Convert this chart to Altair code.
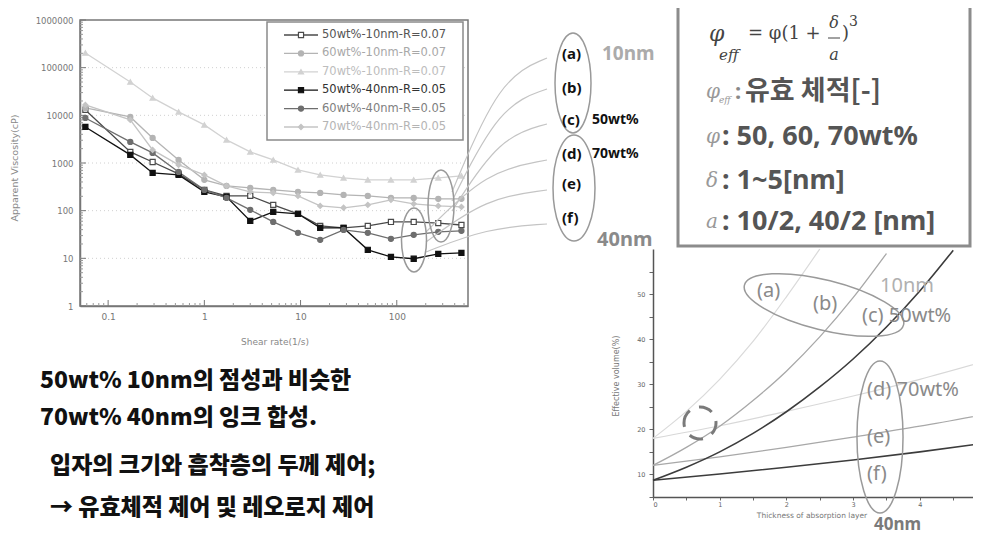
import altair as alt
import pandas as pd

W, H = 965, 529


def vx(x):
    return x - 8


def vy(y):
    return y - 8


# ---------------- viscosity chart ----------------
shear_rate = [0.058, 0.17, 0.29, 0.54, 1.0, 1.7, 3.0, 5.2, 9.4, 16, 28, 50, 87, 150, 270, 470]
series_names = ["50wt%-10nm-R=0.07", "60wt%-10nm-R=0.07", "70wt%-10nm-R=0.07",
                "50wt%-40nm-R=0.05", "60wt%-40nm-R=0.05", "70wt%-40nm-R=0.05"]
visc_50wt_10nm = [13000, 1710, 1050, 590, 273, 204, 204, 132, 86, 48, 43.5, 48, 58, 58, 55, 50]
visc_60wt_10nm = [14300, 9250, 3360, 1160, 443, 330, 300, 273, 248, 236, 214, 204, 185, 185, 177, 177]
visc_70wt_10nm = [203000, 50100, 23200, 11800, 6290, 3050, 1710, 1160, 716, 562, 488, 443, 443, 443, 488, 537]
visc_50wt_40nm = [5710, 1480, 620, 562, 248, 195, 61, 94, 86, 43.5, 43.5, 15.1, 10.7, 9.8, 12.4, 13.0]
visc_60wt_40nm = [8810, 2770, 1630, 650, 273, 185, 104, 58, 34.3, 24.4, 39.5, 34.3, 25.6, 31.1, 36, 37.7]
visc_70wt_40nm = [16500, 8010, 1880, 912, 562, 331, 248, 236, 204, 126, 115, 132, 168, 139, 126, 120]
x_ticks_left = [0.1, 1, 10, 100]
y_ticks_left = [1, 10, 100, 1000, 10000, 100000, 1000000]

# ---------------- effective volume chart ----------------
thickness_10nm = [0, 0.5, 1, 1.5, 2, 2.5, 3, 3.5, 4, 4.5]
eff_10nm_50wt = [8.7, 11.6, 15.0, 19.1, 23.9, 29.4, 35.6, 42.7, 50.7, 59.7]
eff_10nm_60wt = [12, 16.0, 20.7, 26.4, 32.9, 40.5, 49.2, 59.0]
eff_10nm_70wt = [18, 24.0, 31.1, 39.5, 49.4, 60.0]
thickness_40nm = [0, 1, 2, 3, 4, 5]
eff_40nm_50wt = [8.7, 10.1, 11.6, 13.2, 15.0, 17.0]
eff_40nm_60wt = [12, 13.9, 16.0, 18.3, 20.7, 23.4]
eff_40nm_70wt = [18, 20.8, 24.0, 27.4, 31.1, 35.2]
x_ticks_right = [0, 0.5, 1, 1.5, 2, 2.5, 3, 3.5, 4, 4.5]
y_ticks_right = [5, 10, 15, 20, 25, 30, 35, 40, 45, 50, 55]

# ---------------- text ----------------
bottom_lines = ["50wt% 10nm의 점성과 비슷한", "70wt% 40nm의 잉크 합성.",
                "입자의 크기와 흡착층의 두께 제어;", "→ 유효체적 제어 및 레오로지 제어"]
mid_labels = ["(a)", "(b)", "(c)", "(d)", "(e)", "(f)"]

series_colors = ["#4a4a4a", "#b4b4b4", "#d2d2d2", "#111111", "#6e6e6e", "#c4c4c4"]
series_fills = ["#ffffff", "#b4b4b4", "#d2d2d2", "#111111", "#6e6e6e", "#c4c4c4"]
series_shapes = ["square", "circle", "triangle-up", "square", "circle", "diamond"]
text_colors = ["#555555", "#a8a8a8", "#bdbdbd", "#333333", "#808080", "#b4b4b4"]

one = pd.DataFrame({"k": [0]})

rows = []
for name, vals in zip(series_names, [visc_50wt_10nm, visc_60wt_10nm, visc_70wt_10nm,
                                     visc_50wt_40nm, visc_60wt_40nm, visc_70wt_40nm]):
    for r, v in zip(shear_rate, vals):
        rows.append({"series": name, "rate": r, "visc": v})
visc_df = pd.DataFrame(rows)

xs_left = alt.Scale(type="log", domain=[0.051, 550], range=[vx(80), vx(468)], nice=False)
ys_left = alt.Scale(type="log", domain=[1, 1000000], range=[vy(306), vy(20)], nice=False)
stroke_scale = alt.Scale(domain=series_names, range=series_colors)
fill_scale = alt.Scale(domain=series_names, range=series_fills)
shape_scale = alt.Scale(domain=series_names, range=series_shapes)

axL_x = alt.Axis(orient="bottom", offset=vy(306) - H, values=x_ticks_left, format="~g", title=None,
                 ticks=False, grid=False, domainColor="#777777", domainWidth=1.5,
                 labelFontSize=9, labelColor="#777777", labelPadding=6, labelFont="DejaVu Sans")
axL_y = alt.Axis(orient="left", offset=-vx(80), values=y_ticks_left, format=".0f", title=None,
                 ticks=False, grid=False, domainColor="#777777", domainWidth=1.5,
                 labelFontSize=8.5, labelColor="#777777", labelPadding=7, labelFont="DejaVu Sans")

X_L = alt.X("rate:Q", scale=xs_left, axis=axL_x)
Y_L = alt.Y("visc:Q", scale=ys_left, axis=axL_y)

grid = alt.Chart(pd.DataFrame({"v": y_ticks_left[1:-1]})).mark_rule(
    stroke="#d0d0d0", strokeDash=[1, 3], strokeWidth=1).encode(
    y=alt.Y("v:Q", scale=ys_left, axis=axL_y), x=alt.value(vx(80)), x2=alt.value(vx(468)))

minor_y = [m * d for d in y_ticks_left[:-1] for m in range(2, 10)]
minor_x = [v for v in [m * d for d in [0.01, 0.1, 1, 10, 100] for m in range(2, 10)] if 0.051 <= v <= 550]

ytick_major = alt.Chart(pd.DataFrame({"v": y_ticks_left})).mark_rule(stroke="#777777").encode(
    y=alt.Y("v:Q", scale=ys_left, axis=axL_y), x=alt.value(vx(80)), x2=alt.value(vx(86)))
ytick_minor = alt.Chart(pd.DataFrame({"v": minor_y})).mark_rule(stroke="#999999").encode(
    y=alt.Y("v:Q", scale=ys_left, axis=axL_y), x=alt.value(vx(80)), x2=alt.value(vx(83)))
xtick_major = alt.Chart(pd.DataFrame({"v": x_ticks_left})).mark_rule(stroke="#777777").encode(
    x=alt.X("v:Q", scale=xs_left, axis=axL_x), y=alt.value(vy(306)), y2=alt.value(vy(300)))
xtick_minor = alt.Chart(pd.DataFrame({"v": minor_x})).mark_rule(stroke="#999999").encode(
    x=alt.X("v:Q", scale=xs_left, axis=axL_x), y=alt.value(vy(306)), y2=alt.value(vy(303)))

lines_left = alt.Chart(visc_df).mark_line(strokeWidth=1.3).encode(
    x=X_L, y=Y_L, stroke=alt.Stroke("series:N", scale=stroke_scale, legend=None), detail="series:N")
points_left = alt.Chart(visc_df).mark_point(filled=True, size=26, strokeWidth=1.2, opacity=1).encode(
    x=X_L, y=Y_L,
    stroke=alt.Stroke("series:N", scale=stroke_scale, legend=None),
    fill=alt.Fill("series:N", scale=fill_scale, legend=None),
    shape=alt.Shape("series:N", scale=shape_scale, legend=None))

frame_left = alt.Chart(one).mark_rect(filled=False, stroke="#777777", strokeWidth=1.5).encode(
    x=alt.value(vx(80)), x2=alt.value(vx(468)), y=alt.value(vy(20)), y2=alt.value(vy(306)))

left_group = alt.layer(grid, ytick_minor, ytick_major, xtick_minor, xtick_major,
                       lines_left, points_left)

# legend (manual, inside a box)
legend_df = pd.DataFrame({"series": series_names})
leg_y = alt.Y("series:N", scale=alt.Scale(type="point", domain=series_names,
                                           range=[vy(35), vy(127)], padding=0), axis=None)
legend_box = alt.Chart(one).mark_rect(fill="#ffffff", stroke="#8a8a8a", strokeWidth=1.5).encode(
    x=alt.value(vx(267)), x2=alt.value(vx(463)), y=alt.value(vy(22)), y2=alt.value(vy(140)))
legend_lines = alt.Chart(legend_df).mark_rule(strokeWidth=1.3).encode(
    y=leg_y, x=alt.value(vx(284)), x2=alt.value(vx(318)),
    stroke=alt.Stroke("series:N", scale=stroke_scale, legend=None))
legend_pts = alt.Chart(legend_df).mark_point(filled=True, size=26, strokeWidth=1.2, opacity=1).encode(
    y=leg_y, x=alt.value(vx(301)),
    stroke=alt.Stroke("series:N", scale=stroke_scale, legend=None),
    fill=alt.Fill("series:N", scale=fill_scale, legend=None),
    shape=alt.Shape("series:N", scale=shape_scale, legend=None))
legend_txt = alt.Chart(legend_df).mark_text(align="left", baseline="middle", fontSize=11.5,
                                            font="DejaVu Sans").encode(
    y=leg_y, x=alt.value(vx(322)), text="series:N",
    color=alt.Color("series:N", scale=alt.Scale(domain=series_names, range=text_colors), legend=None))
legend_group = alt.layer(legend_lines, legend_pts, legend_txt)


def label(s, x, y, size, color="#000000", weight="normal", font="Noto Sans", align="left",
          style="normal", angle=0, baseline="middle"):
    kw = dict(text=s, align=align, baseline=baseline, fontSize=size, color=color,
              fontWeight=weight, font=font, fontStyle=style)
    if angle:
        kw["angle"] = angle
    return alt.Chart(one).mark_text(**kw).encode(x=alt.value(vx(x)), y=alt.value(vy(y)))


def ellipse(cx, cy, rx, ry, color="#999999", width=1.5, angle=0, dash=None):
    r = max(rx, ry)
    a, b = rx / r, ry / r
    path = f"M {-a:.3f} 0 A {a:.3f} {b:.3f} 0 1 1 {a:.3f} 0 A {a:.3f} {b:.3f} 0 1 1 {-a:.3f} 0 Z"
    kw = dict(shape=path, size=(2 * r) ** 2, filled=False, stroke=color, strokeWidth=width, opacity=1)
    if angle:
        kw["angle"] = angle
    if dash:
        kw["strokeDash"] = dash
    return alt.Chart(one).mark_point(**kw).encode(x=alt.value(vx(cx)), y=alt.value(vy(cy)))


# fan of connectors from the viscosity chart to the labels
starts = [(452, 192), (452, 201), (452, 211), (426, 232), (426, 242), (426, 252)]
ends = [(547, 58), (547, 89), (547, 124), (547, 160), (547, 190), (547, 224)]
fan_rows = []
for i, ((sx, sy), (ex, ey)) in enumerate(zip(starts, ends)):
    cxp, cyp = sx + 0.5 * (ex - sx), ey + 0.15 * (sy - ey)
    for k, (x, y) in enumerate([(sx, sy), (cxp, cyp), (ex, ey)]):
        fan_rows.append({"id": i, "k": k, "x": vx(x), "y": vy(y)})
fan = alt.Chart(pd.DataFrame(fan_rows)).mark_line(interpolate="basis", stroke="#c4c4c4",
                                                  strokeWidth=1.2).encode(
    x=alt.X("x:Q", scale=None, axis=None), y=alt.Y("y:Q", scale=None, axis=None),
    detail="id:N", order="k:Q")

# ---------------- effective volume chart ----------------
xs_r = alt.Scale(domain=[0, 5], range=[vx(653), vx(653) + 5 * 66.7], nice=False, zero=False)
ys_r = alt.Scale(domain=[5, 60], range=[vy(497), vy(249)], nice=False, zero=False)
axR_x = alt.Axis(orient="bottom", offset=vy(497) - H, values=x_ticks_right, format="~g",
                 labelExpr="datum.value % 1 === 0 ? datum.label : ''", title=None, grid=False,
                 tickSize=3, tickColor="#666666", domainColor="#555555", domainWidth=1.5,
                 labelFontSize=6.5, labelColor="#666666", labelPadding=1, labelFont="DejaVu Sans")
axR_y = alt.Axis(orient="left", offset=-vx(653), values=y_ticks_right,
                 labelExpr="datum.value % 10 === 0 ? datum.label : ''", title=None, grid=False,
                 tickSize=4, tickColor="#666666", domainColor="#555555", domainWidth=1.5,
                 labelFontSize=6.5, labelColor="#666666", labelPadding=4, labelFont="DejaVu Sans")


def curve(ts, vs, color, width):
    return alt.Chart(pd.DataFrame({"t": ts, "v": vs})).mark_line(
        color=color, strokeWidth=width, interpolate="monotone").encode(
        x=alt.X("t:Q", scale=xs_r, axis=axR_x), y=alt.Y("v:Q", scale=ys_r, axis=axR_y))


right_group = alt.layer(
    curve(thickness_10nm[:len(eff_10nm_70wt)], eff_10nm_70wt, "#dadada", 1.2),
    curve(thickness_40nm, eff_40nm_70wt, "#d8d8d8", 1.2),
    curve(thickness_10nm[:len(eff_10nm_60wt)], eff_10nm_60wt, "#a8a8a8", 1.3),
    curve(thickness_40nm, eff_40nm_60wt, "#a8a8a8", 1.3),
    curve(thickness_10nm, eff_10nm_50wt, "#3c3c3c", 1.6),
    curve(thickness_40nm, eff_40nm_50wt, "#3c3c3c", 1.6),
)

layers = [
    frame_left, left_group, legend_box, legend_group, fan,
    label("Apparent Viscosity(cP)", 15, 168, 9.5, color="#888888", font="DejaVu Sans", align="center", angle=270),
    label("Shear rate(1/s)", 275, 342, 9, color="#888888", font="DejaVu Sans", align="center"),
    ellipse(441, 206, 13, 36),
    ellipse(414, 240, 12.5, 32),
    ellipse(573, 83, 18, 50),
    ellipse(574, 188, 21, 53),
]
mid_y = [54, 88, 120, 154, 184, 218]
for t, yy in zip(mid_labels, mid_y):
    layers.append(label(t, 562, yy, 15, color="#111111", weight="bold"))
layers += [
    label("10nm", 602, 54, 19, color="#ababab", weight="bold"),
    label("50wt%", 592, 120, 14, color="#111111", weight="bold"),
    label("70wt%", 592, 154, 14, color="#111111", weight="bold"),
    label("40nm", 597, 240, 20, color="#8a8a8a", weight="bold"),
    right_group,
    label("Effective volume(%)", 617, 376, 8, color="#777777", font="DejaVu Sans", align="center", angle=270),
    label("Thickness of absorption layer", 812, 516, 7.5, color="#777777", font="DejaVu Sans", align="center"),
    ellipse(824, 305, 82, 25, color="#9a9a9a", angle=14),
    ellipse(880, 437, 23, 76, color="#9a9a9a"),
    ellipse(700, 423, 16, 16, color="#7a7a7a", width=3, dash=[14, 10]),
    label("(a)", 757, 291, 20, color="#8a8a8a"),
    label("(b)", 813, 304, 20, color="#8a8a8a"),
    label("10nm", 880, 286, 20, color="#b0b0b0"),
    label("(c) 50wt%", 862, 316, 20, color="#8a8a8a"),
    label("(d) 70wt%", 867, 390, 20, color="#8a8a8a"),
    label("(e)", 867, 437, 20, color="#8a8a8a"),
    label("(f)", 867, 474, 20, color="#8a8a8a"),
    label("40nm", 874, 525, 17, color="#7a7a7a", weight="bold"),
    # formula box
    alt.Chart(one).mark_rect(fill="#ffffff", stroke="#8c8c8c", strokeWidth=3).encode(
        x=alt.value(vx(678)), x2=alt.value(vx(970)), y=alt.value(vy(4)), y2=alt.value(vy(246))),
    label("φ", 709, 34, 22, color="#444444", font="DejaVu Serif", style="italic"),
    label("eff", 719, 55, 15, color="#444444", font="DejaVu Serif", style="italic"),
    label("= φ(1 +", 748, 34, 18, color="#444444", font="DejaVu Serif"),
    label("δ", 834, 23, 16, color="#444444", font="DejaVu Serif", style="italic", align="center"),
    alt.Chart(one).mark_rule(stroke="#444444", strokeWidth=1).encode(
        x=alt.value(vx(828)), x2=alt.value(vx(840)), y=alt.value(vy(38)), y2=alt.value(vy(38))),
    label("a", 834, 55, 16, color="#444444", font="DejaVu Serif", style="italic", align="center"),
    label(")", 842, 34, 18, color="#444444", font="DejaVu Serif"),
    label("3", 849, 22, 14, color="#444444", font="DejaVu Serif"),
    label("φ", 706, 92, 20, color="#999999", font="DejaVu Serif", style="italic"),
    label("eff", 719, 100, 9, color="#999999", font="DejaVu Serif", style="italic"),
    label(":", 735, 92, 22, color="#888888", weight="bold"),
    label("유효 체적[-]", 745, 92, 27, color="#555555", weight="bold", font="Noto Sans CJK KR"),
    label("φ", 706, 137, 20, color="#999999", font="DejaVu Serif", style="italic"),
    label(": 50, 60, 70wt%", 722, 137, 27, color="#555555", weight="bold"),
    label("δ", 706, 181, 20, color="#999999", font="DejaVu Serif", style="italic"),
    label(": 1~5[nm]", 722, 181, 27, color="#555555", weight="bold"),
    label("a", 706, 222, 20, color="#999999", font="DejaVu Serif", style="italic"),
    label(": 10/2, 40/2 [nm]", 722, 222, 27, color="#555555", weight="bold"),
]
for t, (xx, yy) in zip(bottom_lines, [(40, 381), (40, 418), (50, 466), (50, 508)]):
    layers.append(label(t, xx, yy, 23, color="#111111", weight=900, font="Noto Sans CJK KR"))

chart = alt.layer(*layers).resolve_scale(x="independent", y="independent").properties(
    width=W, height=H, autosize=alt.AutoSizeParams(type="none"), padding=0,
    background="#ffffff").configure_view(stroke=None)

chart.save("out.html", embed_options={"renderer": "svg", "actions": False})
